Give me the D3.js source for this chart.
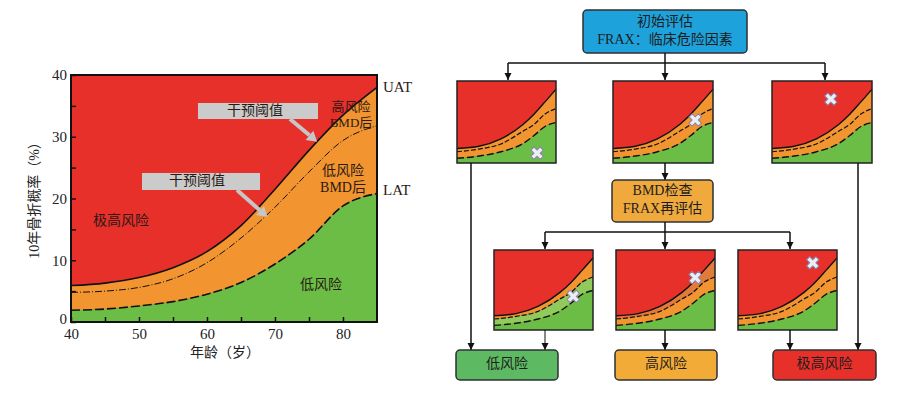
<!DOCTYPE html>
<html>
<head>
<meta charset="utf-8">
<script src="https://cdn.jsdelivr.net/npm/d3@7"></script>
<style>
  body { margin: 0; background: #fff; }
  svg { display: block; }
</style>
</head>
<body>
<svg id="chart" width="900" height="395"></svg>
<script>
"use strict";

// main chart: 10-year fracture probability by age
const ages = [40, 45, 50, 55, 60, 65, 70, 75, 80, 85];
const upperRisk = [5.9, 6.3, 7.2, 8.8, 11.4, 15.6, 21.5, 27.8, 33.5, 38.0];
const interventionRisk = [4.8, 5.0, 5.6, 7.0, 9.6, 13.6, 18.6, 24.3, 29.4, 31.8];
const lowerRisk = [1.9, 2.1, 2.6, 3.3, 4.5, 6.4, 9.4, 13.4, 18.8, 20.8];

const xTicks = [40, 45, 50, 55, 60, 65, 70, 75, 80];
const yTicks = [0, 5, 10, 15, 20, 25, 30, 35, 40];

// thumbnails in the flow chart use a slightly different schematic
const miniAges = [40, 50, 60, 70, 75, 80, 85];
const miniUpper = [7.1, 8.2, 11.8, 18.8, 23.8, 29.8, 36.0];
const miniMiddle = [5.5, 6.8, 9.3, 15.5, 18.8, 23.9, 26.5];
const miniLower = [2.3, 3.4, 5.5, 9.5, 13.4, 17.8, 19.8];

// patient marker (age, risk) in each thumbnail
const markAges = [76.4, 77, 66.5, 76, 76, 74];
const markRisks = [4.8, 21, 31.2, 16.8, 26.2, 33.6];

const startText = ['初始评估', 'FRAX：临床危险因素'];
const bmdText = ['BMD检查', 'FRAX再评估'];
const outcomeLabels = ['低风险', '高风险', '极高风险'];

const RED = '#e8302b';
const ORANGE = '#f2942f';
const GREEN = '#6bbd45';
const SERIF = "'Liberation Serif', 'Noto Sans CJK SC', serif";
const CJK = "'Noto Sans CJK SC', sans-serif";

const svg = d3.select('#chart');

svg.append('defs').append('marker')
  .attr('id', 'head')
  .attr('viewBox', '0 0 10 10')
  .attr('refX', 10)
  .attr('refY', 5)
  .attr('markerWidth', 7)
  .attr('markerHeight', 8)
  .attr('markerUnits', 'userSpaceOnUse')
  .attr('orient', 'auto')
  .append('path')
  .attr('d', 'M0,0L10,5L0,10z')
  .attr('fill', '#111');

// ---------- main chart ----------
let x = d3.scaleLinear().domain([40, 85]).range([71, 377]);
let y = d3.scaleLinear().domain([0, 40]).range([322, 75]);

let rows = ages.map((a, i) => ({
  age: a, up: upperRisk[i], mid: interventionRisk[i], low: lowerRisk[i]
}));

let main = svg.append('g');

main.append('rect')
  .attr('x', x(40)).attr('y', y(40))
  .attr('width', x(85) - x(40)).attr('height', y(0) - y(40))
  .attr('fill', RED);

main.append('path')
  .datum(rows)
  .attr('fill', ORANGE)
  .attr('d', d3.area().curve(d3.curveMonotoneX)
    .x(d => x(d.age)).y0(d => y(d.low)).y1(d => y(d.up)));

main.append('path')
  .datum(rows)
  .attr('fill', GREEN)
  .attr('d', d3.area().curve(d3.curveMonotoneX)
    .x(d => x(d.age)).y0(y(0)).y1(d => y(d.low)));

function mainLine(key, width, dash) {
  main.append('path')
    .datum(rows)
    .attr('fill', 'none')
    .attr('stroke', '#111')
    .attr('stroke-width', width)
    .attr('stroke-dasharray', dash)
    .attr('d', d3.line().curve(d3.curveMonotoneX)
      .x(d => x(d.age)).y(d => y(d[key])));
}
mainLine('up', 1.6, null);
mainLine('mid', 1, '7,2,1,2');
mainLine('low', 1.6, '9,3');

let xAxis = main.append('g')
  .attr('transform', 'translate(0,' + y(0) + ')')
  .call(d3.axisBottom(x).tickValues(xTicks).tickSize(-5).tickPadding(6)
    .tickFormat(d => d % 10 === 0 ? d : ''));
let yAxis = main.append('g')
  .attr('transform', 'translate(' + x(40) + ',0)')
  .call(d3.axisLeft(y).tickValues(yTicks).tickSize(-5).tickPadding(4)
    .tickFormat(d => d % 10 === 0 ? d : ''));

[xAxis, yAxis].forEach(ax => {
  ax.select('.domain').remove();
  ax.selectAll('line').attr('stroke', '#111').attr('stroke-width', 1.5);
  ax.selectAll('text')
    .attr('font-family', SERIF)
    .attr('font-size', 15)
    .attr('fill', '#222');
});
yAxis.selectAll('text').filter(d => d === 0).attr('dy', '0.1em');

main.append('rect')
  .attr('x', x(40)).attr('y', y(40))
  .attr('width', x(85) - x(40)).attr('height', y(0) - y(40))
  .attr('fill', 'none')
  .attr('stroke', '#111')
  .attr('stroke-width', 2);

main.append('text')
  .attr('transform', 'translate(36,197) rotate(-90)')
  .attr('text-anchor', 'middle')
  .attr('dominant-baseline', 'middle')
  .attr('font-family', SERIF)
  .attr('font-size', 14)
  .attr('fill', '#222')
  .text('10年骨折概率（%）');

main.append('text')
  .attr('x', 225).attr('y', 353)
  .attr('text-anchor', 'middle')
  .attr('dominant-baseline', 'middle')
  .attr('font-family', CJK)
  .attr('font-size', 14)
  .attr('fill', '#222')
  .text('年龄（岁）');

function label(g, tx, ty, str, size, anchor) {
  g.append('text')
    .attr('x', tx).attr('y', ty)
    .attr('text-anchor', anchor || 'middle')
    .attr('dominant-baseline', 'middle')
    .attr('font-family', SERIF)
    .attr('font-size', size)
    .attr('fill', '#2a1a14')
    .text(str);
}

label(main, 121, 222, '极高风险', 14);
label(main, 321, 286, '低风险', 14);
label(main, 351, 108, '高风险', 13);
label(main, 351, 124, 'BMD后', 13);
label(main, 343, 172, '低风险', 14);
label(main, 343, 189, 'BMD后', 14);
label(main, 383, 89, 'UAT', 15, 'start');
label(main, 383, 192, 'LAT', 15, 'start');

// grey call-outs pointing at the intervention threshold
function callout(bx, by, bw, bh, tx, ax1, ay1, age, risk) {
  main.append('rect')
    .attr('x', bx).attr('y', by).attr('width', bw).attr('height', bh)
    .attr('fill', '#cbcbcb');
  label(main, tx, by + bh / 2 + 0.5, '干预阈值', 14);
  let ax2 = x(age), ay2 = y(risk);
  let ang = Math.atan2(ay2 - ay1, ax2 - ax1);
  let hl = 10, hw = 6;
  let bxp = ax2 - hl * Math.cos(ang), byp = ay2 - hl * Math.sin(ang);
  main.append('line')
    .attr('x1', ax1).attr('y1', ay1).attr('x2', bxp).attr('y2', byp)
    .attr('stroke', '#c6c6c6').attr('stroke-width', 4);
  let nx = -Math.sin(ang) * hw, ny = Math.cos(ang) * hw;
  main.append('path')
    .attr('d', 'M' + ax2 + ',' + ay2 + 'L' + (bxp + nx) + ',' + (byp + ny) +
      'L' + (bxp - nx) + ',' + (byp - ny) + 'Z')
    .attr('fill', '#c6c6c6');
}
callout(198, 103, 120, 16, 255, 290, 119, 76.2, 29.2);
callout(142, 173, 118, 17, 197, 237, 190, 68.9, 17.0);

// ---------- flow chart ----------
let flow = svg.append('g');

function arrow(x1, y1, x2, y2, w) {
  flow.append('line')
    .attr('x1', x1).attr('y1', y1).attr('x2', x2).attr('y2', y2)
    .attr('stroke', '#111')
    .attr('stroke-width', w || 1.5)
    .attr('marker-end', 'url(#head)');
}
function seg(x1, y1, x2, y2) {
  flow.append('line')
    .attr('x1', x1).attr('y1', y1).attr('x2', x2).attr('y2', y2)
    .attr('stroke', '#111')
    .attr('stroke-width', 1.5);
}

function box(bx, by, bw, bh, fill, lines) {
  flow.append('rect')
    .attr('x', bx).attr('y', by).attr('width', bw).attr('height', bh)
    .attr('rx', 4)
    .attr('fill', fill)
    .attr('stroke', '#2d3035')
    .attr('stroke-width', 1.5);
  let step = 18;
  let top = by + bh / 2 - (lines.length - 1) * step / 2;
  lines.forEach((s, i) => {
    flow.append('text')
      .attr('x', bx + bw / 2).attr('y', top + i * step)
      .attr('text-anchor', 'middle')
      .attr('dominant-baseline', 'middle')
      .attr('font-family', SERIF)
      .attr('font-size', 14)
      .attr('fill', '#1d1d1d')
      .text(s);
  });
}

let miniRows = miniAges.map((a, i) => ({
  age: a, up: miniUpper[i], mid: miniMiddle[i], low: miniLower[i]
}));

function mini(bx, by, bw, bh, variant, k) {
  let mx = d3.scaleLinear().domain([40, 85]).range([bx, bx + bw]);
  let my = d3.scaleLinear().domain([0, 40]).range([by + bh, by]);
  let g = flow.append('g');
  let band = (lo, hi, fill) => g.append('path')
    .datum(miniRows)
    .attr('fill', fill)
    .attr('d', d3.area().curve(d3.curveMonotoneX)
      .x(d => mx(d.age))
      .y0(d => lo ? my(d[lo]) : my(0))
      .y1(d => my(d[hi])));

  g.append('rect').attr('x', bx).attr('y', by)
    .attr('width', bw).attr('height', bh).attr('fill', RED);
  if (variant === 'low') {
    band('mid', 'up', ORANGE);
    band('low', 'mid', '#8fca5a');
  } else if (variant === 'high') {
    band('mid', 'up', '#e07b3a');
    band('low', 'mid', ORANGE);
  } else {
    band('low', 'up', ORANGE);
  }
  band(null, 'low', GREEN);

  [['up', 1.4, null], ['mid', 1.2, '5,2'], ['low', 1.4, '7,3']].forEach(s => {
    g.append('path')
      .datum(miniRows)
      .attr('fill', 'none')
      .attr('stroke', '#111')
      .attr('stroke-width', s[1])
      .attr('stroke-dasharray', s[2])
      .attr('d', d3.line().curve(d3.curveMonotoneX)
        .x(d => mx(d.age)).y(d => my(d[s[0]])));
  });

  g.append('rect').attr('x', bx).attr('y', by)
    .attr('width', bw).attr('height', bh)
    .attr('fill', 'none').attr('stroke', '#222').attr('stroke-width', 1.5);

  g.append('path')
    .attr('transform', 'translate(' + mx(markAges[k]) + ',' + my(markRisks[k]) + ') rotate(45)')
    .attr('d', d3.symbol(d3.symbolCross, 95)())
    .attr('fill', '#eceef6')
    .attr('stroke', '#8c82a8')
    .attr('stroke-width', 1);
}

// top level
box(583, 10, 164, 43, '#1ea2dc', startText);
seg(665, 53, 665, 63);
seg(508, 63, 825, 63);
arrow(508, 63, 508, 80);
arrow(665, 63, 665, 80);
arrow(825, 63, 825, 80);

mini(457, 81, 99, 82, 'normal', 0);
mini(613, 81, 100, 82, 'normal', 1);
mini(772, 81, 100, 82, 'normal', 2);

arrow(665, 163, 665, 180);
box(612, 180, 101, 42, '#f0a93c', bmdText);
seg(665, 222, 665, 232);
seg(545, 232, 790, 232);
arrow(545, 232, 545, 249);
arrow(665, 232, 665, 249);
arrow(790, 232, 790, 249);

mini(494, 250, 99, 80, 'low', 3);
mini(616, 250, 99, 80, 'high', 4);
mini(738, 250, 99, 80, 'normal', 5);

arrow(471, 163, 471, 350);
arrow(858, 163, 858, 350);
arrow(545, 330, 545, 350, 1);
arrow(665, 330, 665, 350);
arrow(790, 330, 790, 350);

box(456, 350, 102, 30, '#5dba63', [outcomeLabels[0]]);
box(615, 350, 102, 30, '#f3ab38', [outcomeLabels[1]]);
box(773, 350, 103, 30, '#e8302b', [outcomeLabels[2]]);
</script>
</body>
</html>
